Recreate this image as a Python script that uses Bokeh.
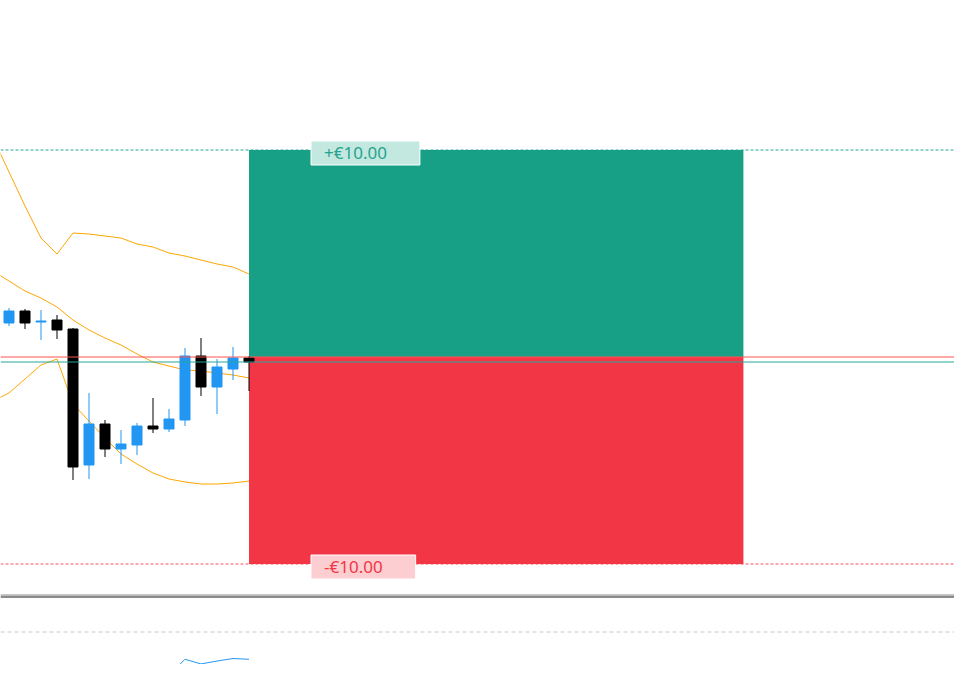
from bokeh.plotting import figure
from bokeh.models import Range1d, Span, Label, ColumnDataSource
from bokeh.layouts import column
from bokeh.embed import file_html
from bokeh.resources import INLINE

# ---------------- data ----------------
bar_index = list(range(16))
opens  = [1.08534, 1.08546, 1.08535, 1.08537, 1.08528, 1.08392, 1.08433, 1.08408,
          1.08412, 1.08431, 1.08428, 1.08437, 1.08501, 1.08470, 1.08488, 1.08499]
highs  = [1.08549, 1.08548, 1.08547, 1.08542, 1.08529, 1.08464, 1.08437, 1.08427,
          1.08434, 1.08459, 1.08448, 1.08509, 1.08519, 1.08498, 1.08510, 1.08501]
lows   = [1.08531, 1.08528, 1.08517, 1.08518, 1.08377, 1.08378, 1.08400, 1.08393,
          1.08402, 1.08424, 1.08425, 1.08431, 1.08461, 1.08443, 1.08477, 1.08466]
closes = [1.08546, 1.08534, 1.08536, 1.08527, 1.08390, 1.08433, 1.08408, 1.08413,
          1.08431, 1.08428, 1.08438, 1.08501, 1.08470, 1.08490, 1.08499, 1.08495]

# indicator series start one bar earlier (bar -1 is just off the left edge)
ind_index = list(range(-1, 16))
bb_upper = [1.08719, 1.08685, 1.08651, 1.08619, 1.08603, 1.08624, 1.08623, 1.08621, 1.08619,
            1.08613, 1.08610, 1.08604, 1.08601, 1.08597, 1.08593, 1.08590, 1.08583]
bb_middle = [1.08586, 1.08576, 1.08566, 1.08559, 1.08550, 1.08537, 1.08527, 1.08519, 1.08512,
             1.08503, 1.08495, 1.08491, 1.08487, 1.08486, 1.08484, 1.08482, 1.08479]
bb_lower = [1.08456, 1.08464, 1.08478, 1.08492, 1.08498, 1.08453, 1.08436, 1.08419, 1.08403,
            1.08393, 1.08384, 1.08378, 1.08375, 1.08373, 1.08373, 1.08374, 1.08376]

rsi = [32.9, 36.0, 34.0, 34.0, 31.7, 22.3, 29.1, 23.2, 27.4,
       30.9, 31.7, 33.1, 46.8, 42.8, 45.3, 47.4, 46.8]
rsi_levels = [70, 30]

entry_price = 1.08500
target_price = 1.08707
stop_price = 1.08293
last_price = 1.08495
position_start = 15
position_end = 45.9
profit_text = "+€10.00"
loss_text = "-€10.00"

# ---------------- styles ----------------
UP = "#2196f3"
DOWN = "#000000"
TEAL_BOX = "#17a086"
RED_BOX = "#f23645"
BAND = "#ffa500"
FONT = "Noto Sans"

W = 954
BAR_PX = 16.0
half = 0.5 / BAR_PX
x_start = -0.5 - half
x_rng = Range1d(x_start, x_start + W / BAR_PX)


def bare(height, y_range):
    f = figure(width=W, height=height, x_range=x_rng, y_range=y_range,
               output_backend="svg", toolbar_location=None,
               x_axis_location=None, y_axis_location=None,
               min_border=0, outline_line_color=None)
    f.grid.visible = False
    f.background_fill_color = "white"
    f.border_fill_color = "white"
    return f


p = bare(594, Range1d(1.082625, 1.088565))

# position boxes
p.quad(left=[position_start], right=[position_end], bottom=[entry_price], top=[target_price],
       fill_color=TEAL_BOX, line_color=None)
p.quad(left=[position_start], right=[position_end], bottom=[stop_price], top=[entry_price],
       fill_color=RED_BOX, line_color=None)

# target/stop dashed lines
p.add_layout(Span(location=target_price, dimension="width", line_color="#26a69a",
                  line_width=1, line_dash="3 2", level="underlay"))
p.add_layout(Span(location=stop_price, dimension="width", line_color="#f7525f",
                  line_width=1, line_dash="3 2", level="underlay"))

# bollinger bands
for band in (bb_upper, bb_middle, bb_lower):
    p.line(ind_index, band, line_color=BAND, line_width=1)

# candles
colors = [UP if c >= o else DOWN for o, c in zip(opens, closes)]
src = ColumnDataSource(dict(
    x=bar_index, high=highs, low=lows,
    top=[max(o, c) for o, c in zip(opens, closes)],
    bottom=[min(o, c) for o, c in zip(opens, closes)],
    color=colors))
p.segment(x0="x", y0="low", x1="x", y1="high", line_color="color", line_width=1, source=src)
p.vbar(x="x", width=0.625, top="top", bottom="bottom", fill_color="color",
       line_color="color", line_width=1, source=src)

# price lines
p.add_layout(Span(location=entry_price, dimension="width", line_color="#ff5252", line_width=1))
p.add_layout(Span(location=last_price, dimension="width", line_color="#26a69a", line_width=1))

# labels
label_x = 18.875
p.add_layout(Label(x=label_x, y=target_price, y_offset=-3, text=profit_text,
                   text_font=FONT, text_font_size="17px", text_color="#26a38f",
                   text_align="left", text_baseline="middle",
                   background_fill_color="#c3e8df", border_line_color="white",
                   padding=dict(left=13, right=33, top=0, bottom=1)))
p.add_layout(Label(x=label_x, y=stop_price, y_offset=-3, text=loss_text,
                   text_font=FONT, text_font_size="17px", text_color="#f23645",
                   text_align="left", text_baseline="middle",
                   background_fill_color="#fccdd1", border_line_color="white",
                   padding=dict(left=13, right=33, top=0, bottom=1)))

# indicator pane (its top 3 px rows hold the pane separator)
IND_H = 70
PX_PER_UNIT = 1.175
ind_top_val = 70 + 37.5 / PX_PER_UNIT
ind_bot_val = ind_top_val - IND_H / PX_PER_UNIT
q = bare(IND_H, Range1d(ind_bot_val, ind_top_val))


def row_center(r):
    # value at the centre of pixel row r of the indicator pane
    return ind_top_val - (r + 0.5) / PX_PER_UNIT


for r, col in ((0, "#1e1e1e"), (1, "#e6e6e6"), (2, "#1e1e1e")):
    q.add_layout(Span(location=row_center(r), dimension="width", line_color=col,
                      line_width=1))
for lvl in rsi_levels:
    q.add_layout(Span(location=lvl, dimension="width", line_color="#c8c8c8",
                      line_width=1, line_dash="4 3", level="underlay"))
q.line(ind_index, rsi, line_color=UP, line_width=1)

layout = column(p, q, spacing=0)
open("out.html", "w").write(file_html(layout, INLINE))
